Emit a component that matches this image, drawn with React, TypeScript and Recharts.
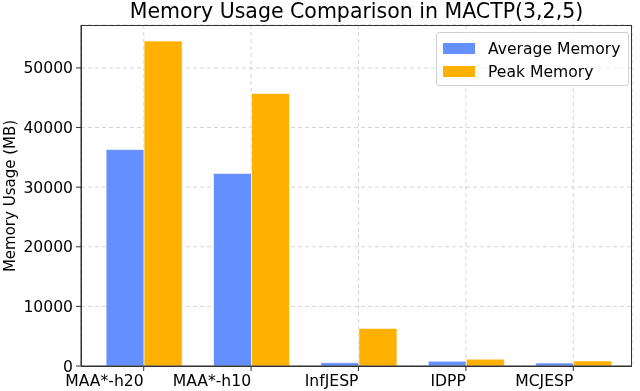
import { Bar, BarChart, CartesianGrid, XAxis, YAxis } from "recharts";

const methods = ["MAA*-h20", "MAA*-h10", "InfJESP", "IDPP", "MCJESP"];
const averageMemory = [36300, 32300, 550, 800, 500];
const peakMemory = [54500, 45700, 6300, 1150, 850];
const yTicks = [0, 10000, 20000, 30000, 40000, 50000];

const data = methods.map((method, i) => ({
  method,
  average: averageMemory[i],
  peak: peakMemory[i],
}));

const FONT = "'DejaVu Sans', sans-serif";
const BLUE = "#648FFF";
const ORANGE = "#FFB000";

function XTick(props: any) {
  const { x, y, payload } = props;
  return (
    <text x={x} y={y} dy={12.5} textAnchor="end" fontSize={15.6} fontFamily={FONT} fill="#000">
      {payload.value}
    </text>
  );
}

function LegendBox() {
  const items = [
    { label: "Average Memory", color: BLUE },
    { label: "Peak Memory", color: ORANGE },
  ];
  return (
    <div
      style={{
        position: "absolute",
        left: 436,
        top: 32,
        width: 193,
        height: 54,
        border: "1px solid #d0d0d0",
        borderRadius: 3,
        background: "rgba(255,255,255,0.8)",
        fontFamily: FONT,
        fontSize: 15.6,
        boxSizing: "border-box",
        padding: "4px 0 0 6px",
        color: "#000",
      }}
    >
      {items.map((it) => (
        <div key={it.label} style={{ display: "flex", alignItems: "center", height: 23 }}>
          <span style={{ display: "inline-block", width: 32, height: 11, background: it.color, marginRight: 13 }} />
          <span>{it.label}</span>
        </div>
      ))}
    </div>
  );
}

export default function App() {
  return (
    <div style={{ position: "fixed", left: 0, top: 0, width: 640, height: 391, background: "#fff" }}>
      <div
        style={{
          position: "absolute",
          left: 81,
          width: 551,
          top: 0,
          lineHeight: "22px",
          textAlign: "center",
          fontFamily: FONT,
          fontSize: 20.5,
          color: "#000",
          whiteSpace: "nowrap",
        }}
      >
        Memory Usage Comparison in MACTP(3,2,5)
      </div>
      <div
        style={{
          position: "absolute",
          left: 10,
          top: 196,
          transform: "translate(-50%, -50%) rotate(-90deg)",
          fontFamily: FONT,
          fontSize: 15,
          whiteSpace: "nowrap",
          color: "#000",
        }}
      >
        Memory Usage (MB)
      </div>
      <BarChart
        width={640}
        height={391}
        data={data}
        margin={{ top: 25, right: 8, bottom: 0, left: 0 }}
        barCategoryGap="15%"
        barGap={0}
      >
        <CartesianGrid stroke="#cccccc" strokeDasharray="4 3" strokeWidth={0.8} />
        <XAxis
          dataKey="method"
          height={25}
          padding={{ left: 9, right: 5 }}
          tick={<XTick />}
          tickSize={5}
          tickMargin={2}
          stroke="#333"
          interval={0}
        />
        <YAxis
          width={81}
          domain={[0, 57200]}
          ticks={yTicks}
          tickSize={5}
          tickMargin={3}
          stroke="#333"
          tick={{ fontSize: 15.6, fontFamily: FONT, fill: "#000" }}
        />
        <Bar dataKey="average" name="Average Memory" fill={BLUE} stroke="#fff" strokeWidth={0.6} isAnimationActive={false} />
        <Bar dataKey="peak" name="Peak Memory" fill={ORANGE} stroke="#fff" strokeWidth={0.6} isAnimationActive={false} />
      </BarChart>
      <LegendBox />
      <div
        style={{
          position: "absolute",
          left: 81,
          top: 25,
          width: 551,
          height: 342,
          border: "1px solid #333",
          boxSizing: "border-box",
          pointerEvents: "none",
        }}
      />
    </div>
  );
}
